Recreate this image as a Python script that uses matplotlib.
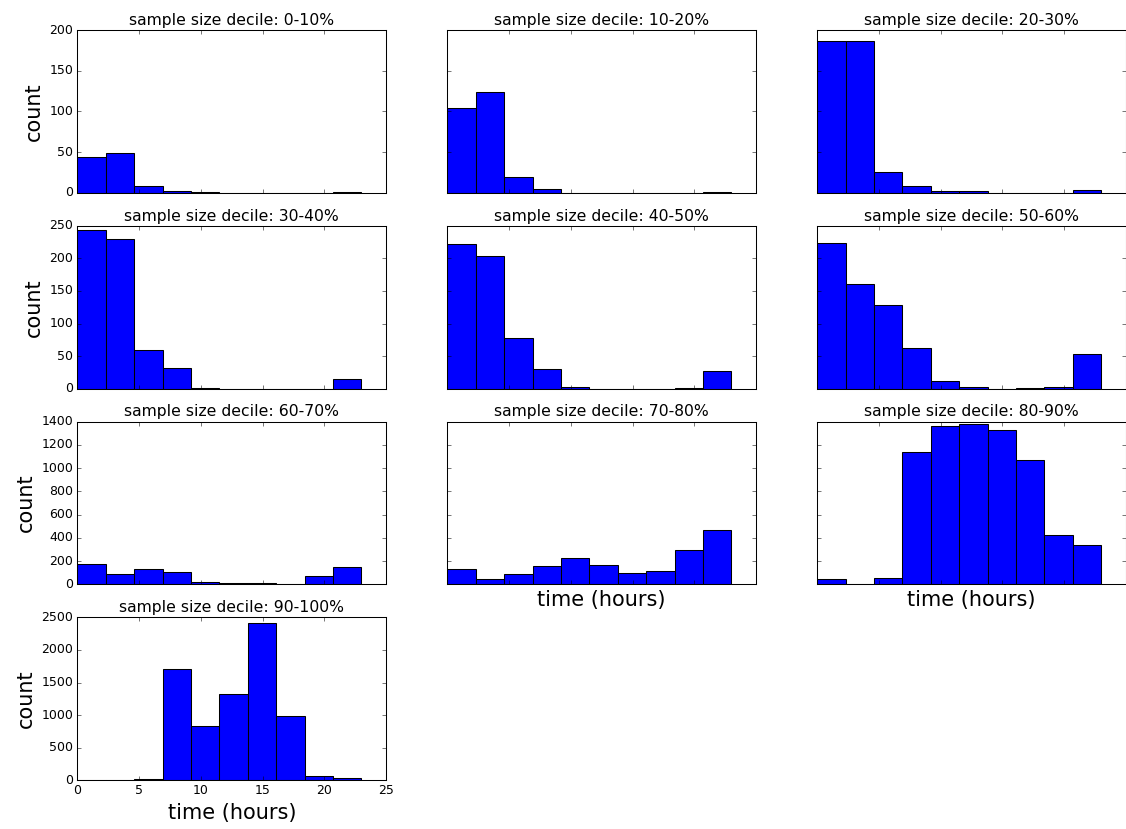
"""
Histogram of time-of-day per sample size decile
"""
import numpy as np
import matplotlib
matplotlib.use("Agg")
import matplotlib.pyplot as plt

plt.style.use("classic")

# 10 bins from 0 to 23 hours
bin_edges = np.linspace(0, 23, 11)

decile_labels = ["0-10%", "10-20%", "20-30%", "30-40%", "40-50%",
                 "50-60%", "60-70%", "70-80%", "80-90%", "90-100%"]

counts_0_10 = [44, 49, 8, 2, 1, 0, 0, 0, 0, 1]
counts_10_20 = [104, 124, 19, 5, 0, 0, 0, 0, 0, 1]
counts_20_30 = [186, 186, 25, 8, 2, 2, 0, 0, 0, 3]
counts_30_40 = [244, 230, 59, 32, 1, 0, 0, 0, 0, 15]
counts_40_50 = [222, 203, 77, 30, 2, 0, 0, 0, 1, 27]
counts_50_60 = [223, 160, 128, 63, 12, 2, 0, 1, 3, 53]
counts_60_70 = [176, 86, 135, 107, 17, 9, 9, 6, 72, 153]
counts_70_80 = [130, 43, 89, 158, 228, 167, 95, 112, 294, 470]
counts_80_90 = [46, 6, 52, 1135, 1365, 1383, 1326, 1072, 426, 340]
counts_90_100 = [5, 3, 15, 1706, 830, 1322, 2413, 984, 72, 36]

all_counts = [counts_0_10, counts_10_20, counts_20_30, counts_30_40,
              counts_40_50, counts_50_60, counts_60_70, counts_70_80,
              counts_80_90, counts_90_100]

row_ylim = [200, 250, 1400, 2500]

fig, axes = plt.subplots(4, 3, sharex=True, sharey="row",
                         figsize=(1126 / 75, 829 / 75), dpi=75)
fig.patch.set_facecolor("white")
fig.subplots_adjust(left=0.0687, right=1.0, bottom=0.0588, top=0.9638,
                    wspace=0.198, hspace=0.2025)

centers = (bin_edges[:-1] + bin_edges[1:]) / 2
for i, (label, counts) in enumerate(zip(decile_labels, all_counts)):
    ax = axes.flat[i]
    ax.hist(centers, bins=bin_edges, weights=counts, color="b",
            edgecolor="k", linewidth=1)
    ax.set_title(f"sample size decile: {label}", fontsize=15)
    ax.set_xlim(0, 25)
    ax.set_ylim(0, row_ylim[i // 3])
    if i % 3 == 0:
        ax.set_ylabel("count", fontsize=20)

axes[3, 1].remove()
axes[3, 2].remove()

for ax in (axes[3, 0], axes[2, 1], axes[2, 2]):
    ax.set_xlabel("time (hours)", fontsize=20)

plt.savefig("out.png", dpi=75, facecolor="white")
